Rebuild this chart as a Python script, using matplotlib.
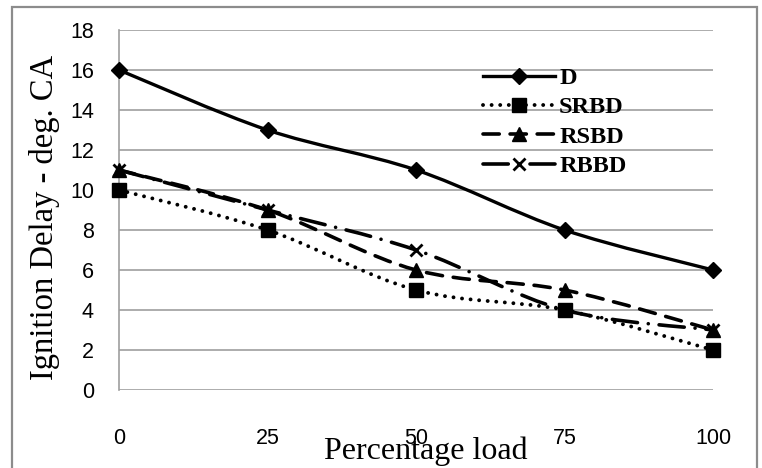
import matplotlib
matplotlib.use("Agg")
import matplotlib.pyplot as plt
from matplotlib.path import Path
from matplotlib.patches import PathPatch, Rectangle
from matplotlib.lines import Line2D

# Engine load (%) and ignition delay (deg. CA) for each fuel
load = [0, 25, 50, 75, 100]
series_names = ["D", "SRBD", "RSBD", "RBBD"]
delay_d = [16, 13, 11, 8, 6]
delay_srbd = [10, 8, 5, 4, 2]
delay_rsbd = [11, 9, 6, 5, 3]
delay_rbbd = [11, 9, 7, 4, 3]
y_ticks = [0, 2, 4, 6, 8, 10, 12, 14, 16, 18]

styles = {
    "D":    dict(ls="-",                    marker="D", ms=8.5, lw=2.4),
    "SRBD": dict(ls=(0, (0.01, 2.2)),       marker="s", ms=10.5, lw=2.8),
    "RSBD": dict(ls=(0, (4.5, 3.0)),        marker="^", ms=10.5, lw=2.6),
    "RBBD": dict(ls=(0, (7, 3, 0.01, 3)),   marker="x", ms=9,   lw=2.6),
}
values = {"D": delay_d, "SRBD": delay_srbd, "RSBD": delay_rsbd, "RBBD": delay_rbbd}

serif = "Liberation Serif"
sans = "Liberation Sans"
grid_col = "#9e9e9e"


def smooth_path(xs, ys):
    """Cubic Bezier path through the points (Catmull-Rom style smoothing)."""
    pts = list(zip(xs, ys))
    n = len(pts)
    verts = [pts[0]]
    codes = [Path.MOVETO]
    for i in range(n - 1):
        p0 = pts[i - 1] if i > 0 else pts[i]
        p1 = pts[i]
        p2 = pts[i + 1]
        p3 = pts[i + 2] if i + 2 < n else pts[i + 1]
        c1 = (p1[0] + (p2[0] - p0[0]) / 6, p1[1] + (p2[1] - p0[1]) / 6)
        c2 = (p2[0] - (p3[0] - p1[0]) / 6, p2[1] - (p3[1] - p1[1]) / 6)
        verts += [c1, c2, p2]
        codes += [Path.CURVE4] * 3
    return Path(verts, codes)


fig = plt.figure(figsize=(7.62, 4.68), dpi=100)
ax = fig.add_axes([119 / 762, 78 / 468, 594 / 762, 360 / 468])

ax.set_xlim(0, 100)
ax.set_ylim(0, 18)
ax.set_xticks(load)
ax.set_yticks(y_ticks)
ax.set_xticklabels([str(v) for v in load], fontfamily=sans, fontsize=15.5)
ax.set_yticklabels([str(v) for v in y_ticks], fontfamily=sans, fontsize=15.5)
ax.tick_params(axis="both", length=0)
ax.tick_params(axis="x", pad=27)
ax.tick_params(axis="y", pad=18)

for side in ["top", "right", "bottom"]:
    ax.spines[side].set_visible(False)
ax.spines["left"].set_color(grid_col)
ax.spines["left"].set_linewidth(1.2)
ax.yaxis.grid(True, color=grid_col, linewidth=1.2)
ax.set_axisbelow(True)

handles = []
for name in series_names:
    st = styles[name]
    ys = values[name]
    patch = PathPatch(smooth_path(load, ys), fill=False, edgecolor="black",
                      linewidth=st["lw"], linestyle=st["ls"], capstyle="round",
                      joinstyle="round", clip_on=False, zorder=3)
    ax.add_patch(patch)
    ax.plot(load, ys, linestyle="none", marker=st["marker"], ms=st["ms"],
            color="black", mec="black", mew=2.0 if st["marker"] == "x" else 1,
            clip_on=False, zorder=4)
    handles.append(Line2D([], [], color="black", lw=st["lw"], ls=st["ls"],
                          marker=st["marker"], ms=st["ms"] * 0.9,
                          mew=2.0 if st["marker"] == "x" else 1,
                          dash_capstyle="round"))

leg = ax.legend(handles, series_names, loc="upper left",
                bbox_to_anchor=(0.612, 0.897), frameon=False,
                prop=dict(family=serif, weight="bold", size=17.5),
                handlelength=3.0, handletextpad=0.15, labelspacing=0.3,
                borderpad=0, borderaxespad=0)

fig.text(426 / 762, 1 - 459 / 468, "Percentage load", family=serif,
         fontsize=23, ha="center", va="baseline")
fig.text(45 / 762, 1 - 217 / 468, "Ignition Delay - deg. CA", family=serif,
         fontsize=23.5, ha="center", va="center", rotation=90)

border = Rectangle((12 / 762, -0.02), 745 / 762, 1 - 7 / 468 + 0.02,
                   transform=fig.transFigure, fill=False,
                   edgecolor="#8c8c8c", linewidth=1.6, clip_on=False)
fig.patches.append(border)

fig.savefig("out.png", dpi=100)
